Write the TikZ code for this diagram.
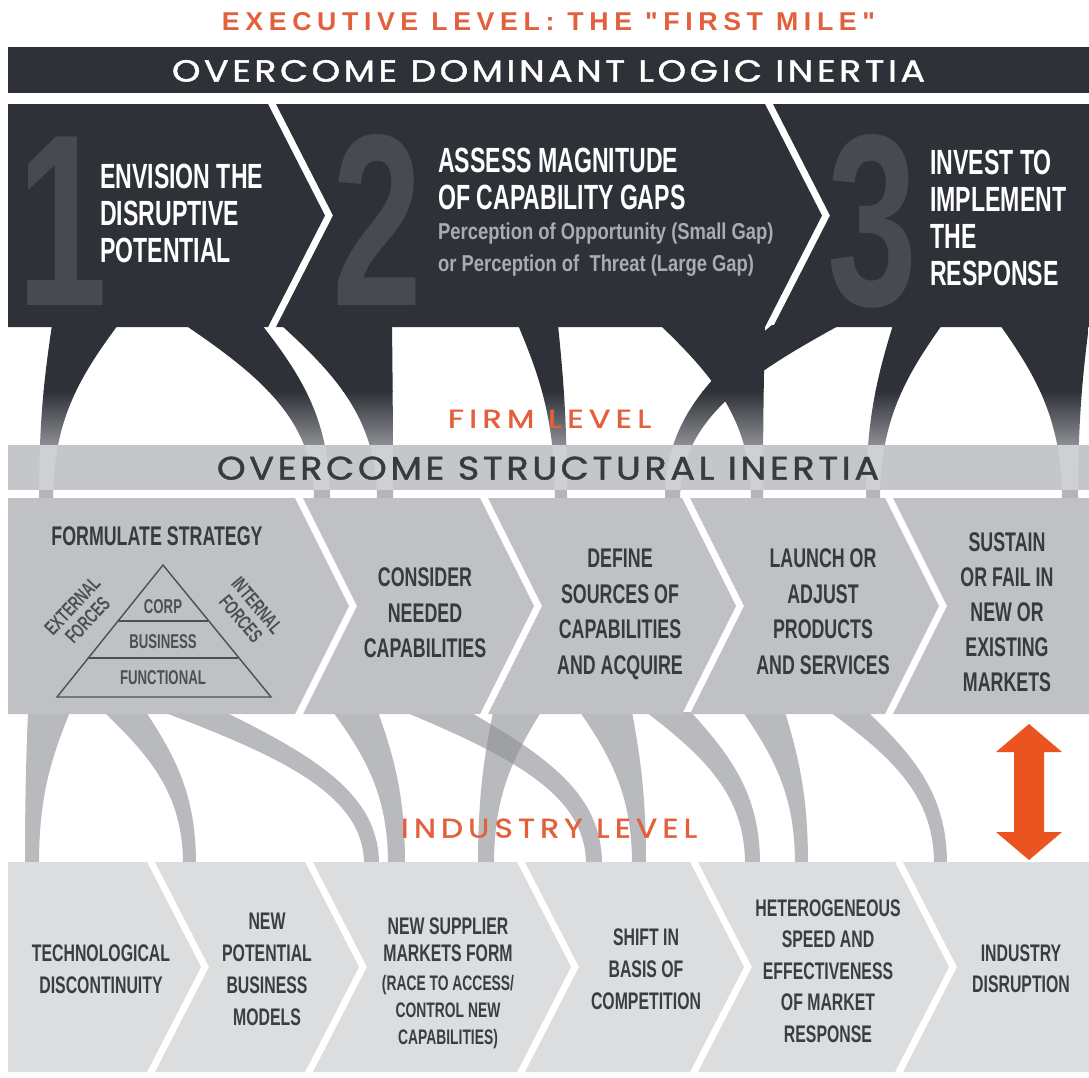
\documentclass[tikz,border=0pt]{standalone}
\usepackage{fontspec}
\newfontfamily\condfam[FakeStretch=0.66]{Liberation Sans}
\newfontfamily\percfam[FakeStretch=0.8]{Liberation Sans}
\newfontfamily\geofam[LetterSpace=10,FakeBold=1.3]{Poppins}
\newfontfamily\geowide[LetterSpace=17,FakeBold=1.3]{Poppins}
\newfontfamily\titlefam[FakeStretch=0.95,LetterSpace=20]{Liberation Sans}

\definecolor{execdark}{HTML}{2E3137}
\definecolor{execnum}{HTML}{474A51}
\definecolor{perc}{HTML}{A9ADB3}
\definecolor{firmbar}{HTML}{C5C6C9}
\definecolor{firmbox}{HTML}{C0C1C4}
\definecolor{firmtext}{HTML}{393A3E}
\definecolor{pyrline}{HTML}{4E4F54}
\definecolor{indbox}{HTML}{DCDDDF}
\definecolor{indtext}{HTML}{3C3D41}
\definecolor{legmid}{HTML}{8E9095}
\definecolor{leginbar}{HTML}{CFD0D3}
\definecolor{leggap}{HTML}{B3B5B9}
\definecolor{lowleg}{HTML}{8F9196}
\definecolor{accent}{HTML}{EA5420}
\definecolor{lvltext}{HTML}{E2603B}

% a tapering root-like strip: y top, y bottom, top-left x, top-right x, bottom-left x, bottom-right x
\newcommand{\legpath}[6]{(#3,#1) .. controls ({#3+0.6*(#5-#3)},{#1+0.3*(#2-#1)}) and (#5,{#2-0.45*(#2-#1)}) .. (#5,#2) -- (#6,#2) .. controls (#6,{#2-0.45*(#2-#1)}) and ({#4+0.6*(#6-#4)},{#1+0.3*(#2-#1)}) .. (#4,#1) -- cycle}
\newcommand{\upleg}[4]{\legpath{325}{500}{#1}{#2}{#3}{#4}}
\newcommand{\downleg}[4]{\legpath{712}{864}{#1}{#2}{#3}{#4}}

\tikzset{
  exectxt/.style={text=white, font={\condfam\bfseries\fontsize{35}{37}\selectfont}, align=left, anchor=west, inner sep=0pt, text depth=0pt},
  perctxt/.style={text=perc, font={\percfam\bfseries\fontsize{23}{32}\selectfont}, align=left, anchor=west, inner sep=0pt, text depth=0pt},
  bignum/.style={text=execnum, font={\condfam\bfseries\fontsize{245}{245}\selectfont}, anchor=base, inner sep=0pt},
  firmtxt/.style={text=firmtext, font={\condfam\bfseries\fontsize{27}{35.5}\selectfont}, align=center, inner sep=0pt, text depth=0pt},
  pyrtxt/.style={text=pyrline, font={\condfam\bfseries\fontsize{20}{21}\selectfont}, align=center, inner sep=0pt, text depth=0pt},
  pyr/.style={draw=pyrline, line width=1.4pt, line join=miter},
  indtxt/.style={text=indtext, font={\condfam\bfseries\fontsize{24}{32}\selectfont}, align=center, inner sep=0pt, text depth=0pt},
  headtxt/.style={inner sep=0pt, anchor=south},
  lowstrip/.style={fill=lowleg, fill opacity=0.62},
}

\begin{document}
\begin{tikzpicture}[x=1pt,y=-1pt]
\useasboundingbox (0,0) rectangle (1089,1077);
\fill[white] (0,0) rectangle (1089,1077);

% ---------- executive level ----------
\node[headtxt] (exectitle) at (548.5,31) {\resizebox{653pt}{18pt}{\titlefam\bfseries\color{lvltext}EXECUTIVE LEVEL: THE "FIRST MILE"}};
\fill[execdark] (8,47) rectangle (1089,93);
\node[headtxt] (logic) at (548.5,82) {\resizebox{753pt}{21.5pt}{\geofam\color{white}OVERCOME DOMINANT LOGIC INERTIA}};

% ---------- firm level bar ----------
\fill[firmbar] (8,445) rectangle (1089,490);

% strips from the executive steps down to the firm steps
\begin{scope}
  \clip \upleg{52}{118}{39}{53}
        \upleg{185}{262}{314}{330}
        \upleg{281}{392}{377}{393}
        \upleg{518}{558}{555}{567}
        \upleg{660}{765}{751}{763}
        \upleg{772}{840}{665}{680}
        \upleg{893}{942}{866}{880}
        \upleg{1000}{1089}{1062}{1078};
  \fill[execdark] (0,320) rectangle (1089,392);
  \shade[top color=execdark, bottom color=legmid] (0,391) rectangle (1089,446);
  \fill[leginbar] (0,445) rectangle (1089,491);
  \fill[leggap] (0,490) rectangle (1089,502);
\end{scope}

\node[headtxt] (firmlevel) at (549.5,428) {\resizebox{203pt}{18pt}{\geowide\color{lvltext}FIRM LEVEL}};
\node[headtxt] (structural) at (548,480) {\resizebox{662pt}{23pt}{\geofam\color{firmtext}OVERCOME STRUCTURAL INERTIA}};

% strips from the firm steps down to the industry steps
\fill[lowstrip] \downleg{28}{70}{25}{39};
\fill[lowstrip] \downleg{104}{146}{183}{196};
\fill[lowstrip] \downleg{163}{225}{364}{379};
\fill[lowstrip] \downleg{333}{378}{388}{405};
\fill[lowstrip] \downleg{405}{470}{586}{602};
\fill[lowstrip] \downleg{493}{541}{478}{494};
\fill[lowstrip] \downleg{580}{632}{632}{646};
\fill[lowstrip] \downleg{646}{691}{745}{760};
\fill[lowstrip] \downleg{743}{785}{795}{808};
\fill[lowstrip] \downleg{830}{868}{934}{947};

% executive chevrons
\fill[execdark] (8,104) -- (268,104) -- (325,215.5) -- (268,327) -- (8,327) -- cycle;
\fill[execdark] (276,104) -- (765,104) -- (822,215.5) -- (765,327) -- (276,327) -- (333,215.5) -- cycle;
\fill[execdark] (773,104) -- (1089,104) -- (1089,327) -- (773,327) -- (830,215.5) -- cycle;

% firm chevrons
\fill[firmbox] (8,498) -- (295,498) -- (349,606) -- (295,714) -- (8,714) -- cycle;
\fill[firmbox] (303,498) -- (480,498) -- (534,606) -- (480,714) -- (303,714) -- (357,606) -- cycle;
\fill[firmbox] (488,498) -- (682,498) -- (736,606) -- (682,714) -- (488,714) -- (542,606) -- cycle;
\fill[firmbox] (690,498) -- (885,498) -- (939,606) -- (885,714) -- (690,714) -- (744,606) -- cycle;
\fill[firmbox] (893,498) -- (1089,498) -- (1089,714) -- (893,714) -- (947,606) -- cycle;

% industry chevrons
\fill[indbox] (8,862) -- (147,862) -- (201,967) -- (147,1072) -- (8,1072) -- cycle;
\fill[indbox] (155,862) -- (305,862) -- (359,967) -- (305,1072) -- (155,1072) -- (209,967) -- cycle;
\fill[indbox] (313,862) -- (517,862) -- (571,967) -- (517,1072) -- (313,1072) -- (367,967) -- cycle;
\fill[indbox] (525,862) -- (690,862) -- (744,967) -- (690,1072) -- (525,1072) -- (579,967) -- cycle;
\fill[indbox] (698,862) -- (895,862) -- (949,967) -- (895,1072) -- (698,1072) -- (752,967) -- cycle;
\fill[indbox] (903,862) -- (1089,862) -- (1089,1072) -- (903,1072) -- (957,967) -- cycle;

\node[headtxt] (indlevel) at (549,838) {\resizebox{296pt}{19pt}{\geowide\color{lvltext}INDUSTRY LEVEL}};

% executive step texts
\node[bignum] (num1) at (62,305) {1};
\node[bignum] (num2) at (377,305) {2};
\node[bignum] (num3) at (872,305) {3};
\node[exectxt] (envision) at (100,213) {ENVISION THE\\DISRUPTIVE\\POTENTIAL};
\node[exectxt] (assess) at (438,178.5) {ASSESS MAGNITUDE\\OF CAPABILITY GAPS};
\node[perctxt] (perception) at (438,247.5) {Perception of Opportunity (Small Gap)\\or Perception of\ \ Threat (Large Gap)};
\node[exectxt] (invest) at (930,218) {INVEST TO\\IMPLEMENT\\THE\\RESPONSE};

% firm step texts
\node[firmtxt] (formulate) at (157,536) {FORMULATE STRATEGY};
\coordinate (apex) at (163,565);
\coordinate (baseR) at (271,697);
\coordinate (baseL) at (57,697);
\draw[pyr] (apex) -- (baseR) -- (baseL) -- cycle;
\draw[pyr] (117.6,621) -- (208.4,621);
\draw[pyr] (87.6,658) -- (238.4,658);
\node[pyrtxt] (corp) at (163,607) {CORP};
\node[pyrtxt] (business) at (163,642) {BUSINESS};
\node[pyrtxt] (functional) at (163,677.5) {FUNCTIONAL};
\node[pyrtxt, rotate=47] (extforces) at (80,613) {EXTERNAL\\FORCES};
\node[pyrtxt, rotate=-50] (intforces) at (249,612) {INTERNAL\\FORCES};
\node[firmtxt] (consider) at (425,613) {CONSIDER\\NEEDED\\CAPABILITIES};
\node[firmtxt] (define) at (620,611.5) {DEFINE\\SOURCES OF\\CAPABILITIES\\AND ACQUIRE};
\node[firmtxt] (launch) at (823,611.5) {LAUNCH OR\\ADJUST\\PRODUCTS\\AND SERVICES};
\node[firmtxt, font={\condfam\bfseries\fontsize{27}{35}\selectfont}] (sustain) at (1007,612.5) {SUSTAIN\\OR FAIL IN\\NEW OR\\EXISTING\\MARKETS};

% industry step texts
\node[indtxt] (techno) at (101,969) {TECHNOLOGICAL\\DISCONTINUITY};
\node[indtxt] (newmodels) at (267,969.5) {NEW\\POTENTIAL\\BUSINESS\\MODELS};
\node[indtxt, font={\condfam\bfseries\fontsize{24}{27}\selectfont}] (supplier) at (448,939.5) {NEW SUPPLIER\\MARKETS FORM};
\node[indtxt, font={\condfam\bfseries\fontsize{21}{27}\selectfont}] (race) at (448,1010) {(RACE TO ACCESS/\\CONTROL NEW\\CAPABILITIES)};
\node[indtxt] (shift) at (646,969.5) {SHIFT IN\\BASIS OF\\COMPETITION};
\node[indtxt, font={\condfam\bfseries\fontsize{24}{31.5}\selectfont}] (hetero) at (828,971) {HETEROGENEOUS\\SPEED AND\\EFFECTIVENESS\\OF MARKET\\RESPONSE};
\node[indtxt, font={\condfam\bfseries\fontsize{24}{31}\selectfont}] (disruption) at (1021,969) {INDUSTRY\\DISRUPTION};

% two-way arrow between firm and industry
\fill[accent] (1029,724) -- (1062,752) -- (1044,752) -- (1044,832) -- (1062,832) -- (1029,860) -- (996,832) -- (1014,832) -- (1014,752) -- (996,752) -- cycle;
\end{tikzpicture}
\end{document}
